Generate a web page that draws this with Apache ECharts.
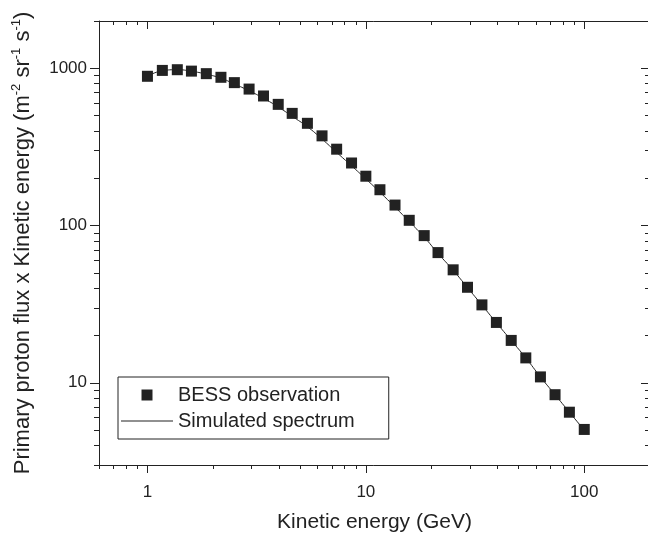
<!DOCTYPE html>
<html>
<head>
<meta charset="utf-8">
<script src="https://cdn.jsdelivr.net/npm/echarts@6/dist/echarts.min.js"></script>
<style>
  html, body { margin: 0; padding: 0; background: #fff; }
  #main { width: 648px; height: 533px; }
</style>
</head>
<body>
<div id="main"></div>
<script>
"use strict"
// BESS observed points (kinetic energy GeV, flux x energy)
var energy = [1.0, 1.17, 1.37, 1.59, 1.86, 2.17, 2.5, 2.92, 3.4, 3.97, 4.6, 5.4, 6.3, 7.35, 8.6,
    10, 11.6, 13.6, 15.8, 18.5, 21.4, 25.1, 29.2, 34, 39.6, 46.3, 54, 63, 73.5, 85.5, 100];
var bess = [890, 970, 980, 960, 925, 877, 811, 738, 667, 590, 517, 447, 372, 306, 250,
    206, 169, 135, 108, 86.3, 67.3, 52.3, 40.5, 31.3, 24.2, 18.6, 14.4, 10.9, 8.4, 6.5, 5.05];
// simulated curve, read at the same energies
var simulated = [890, 965, 980, 958, 918, 865, 795, 720, 645, 568, 495, 425, 355, 292, 240,
    198, 163, 131, 106, 84.5, 66.5, 52, 40.3, 31.2, 24.1, 18.6, 14.4, 10.9, 8.4, 6.5, 5.0];

// tick labels / tick values
var xMajor = [1, 10, 100];
var xMinor = [0.6, 0.7, 0.8, 0.9, 2, 3, 4, 5, 6, 7, 8, 9, 20, 30, 40, 50, 60, 70, 80, 90, 200];
var yMajor = [10, 100, 1000];
var yMinor = [3, 4, 5, 6, 7, 8, 9, 20, 30, 40, 50, 60, 70, 80, 90, 200, 300, 400, 500, 600, 700, 800, 900, 2000];

var ink = '#222';
var font = 'Liberation Sans, Arial, sans-serif';

var scatterData = [], lineData = [];
for (var i = 0; i < energy.length; i++) {
    scatterData.push([energy[i], bess[i]]);
    lineData.push([energy[i], simulated[i]]);
}

function plain(v) { return String(v); }

function xAx(pos, major, labels, inside) {
    return {
        type: 'log', logBase: 10, min: 0.6, max: 200, position: pos,
        axisLine: { show: major, onZero: false, lineStyle: { color: ink, width: 1 } },
        axisTick: { show: true, inside: inside, length: major ? 8 : 4,
            customValues: major ? xMajor : xMinor, lineStyle: { color: ink, width: 1 } },
        axisLabel: { show: labels, customValues: xMajor, margin: 19, fontSize: 17,
            color: ink, fontFamily: font, formatter: plain },
        minorTick: { show: false },
        splitLine: { show: false }
    };
}
function yAx(pos, major, labels, inside) {
    return {
        type: 'log', logBase: 10, min: 3, max: 2000, position: pos,
        axisLine: { show: major, onZero: false, lineStyle: { color: ink, width: 1 } },
        axisTick: { show: true, inside: inside, length: major ? 9 : 5,
            customValues: major ? yMajor : yMinor, lineStyle: { color: ink, width: 1 } },
        axisLabel: { show: labels, customValues: yMajor, margin: 12, fontSize: 17,
            color: ink, fontFamily: font, formatter: plain },
        minorTick: { show: false },
        splitLine: { show: false }
    };
}

var xAxes = [xAx('bottom', true, true, false), xAx('bottom', false, false, false),
    xAx('top', true, false, true), xAx('top', false, false, true)];
xAxes[0].name = 'Kinetic energy (GeV)';
xAxes[0].nameLocation = 'middle';
xAxes[0].nameGap = 47;
xAxes[0].nameTextStyle = { fontSize: 21, color: ink, fontFamily: font };

var yAxes = [yAx('left', true, true, false), yAx('left', false, false, false),
    yAx('right', true, false, true), yAx('right', false, false, true)];
yAxes[0].name = '{a|Primary proton flux x Kinetic energy (m}{s|-2}{a| sr}{s|-1}{a| s}{s|-1}{a|)}';
yAxes[0].nameLocation = 'middle';
yAxes[0].nameGap = 64;
yAxes[0].nameTextStyle = {
    fontSize: 22, color: ink, fontFamily: font,
    rich: {
        a: { fontSize: 22, color: ink, fontFamily: font, lineHeight: 25 },
        s: { fontSize: 13, color: ink, fontFamily: font, verticalAlign: 'top', lineHeight: 25 }
    }
};

var option = {
    backgroundColor: '#fff',
    animation: false,
    grid: { left: 99, top: 21, right: -2, bottom: 68, outerBoundsMode: 'none', containLabel: false },
    legend: {
        orient: 'vertical', left: 118, top: 377,
        itemWidth: 52, itemHeight: 11, itemGap: 6,
        padding: [8, 34, 8, 3],
        borderColor: ink, borderWidth: 1,
        textStyle: { fontSize: 20, color: ink, fontFamily: font },
        data: [
            { name: 'BESS observation', icon: 'path://M0,0H1V1H0Z' },
            { name: 'Simulated spectrum', icon: 'path://M0,0H52V1H0Z' }
        ]
    },
    xAxis: xAxes,
    yAxis: yAxes,
    series: [{
        name: 'Simulated spectrum',
        type: 'line',
        xAxisIndex: 0, yAxisIndex: 0,
        data: lineData,
        smooth: true,
        showSymbol: false,
        symbol: 'none',
        lineStyle: { color: ink, width: 1 },
        itemStyle: { color: ink },
        z: 2
    }, {
        name: 'BESS observation',
        type: 'scatter',
        xAxisIndex: 0, yAxisIndex: 0,
        data: scatterData,
        symbol: 'rect',
        symbolSize: 11,
        itemStyle: { color: ink, opacity: 1 },
        z: 3
    }]
};

var chart = echarts.init(document.getElementById('main'));
chart.setOption(option);
</script>
</body>
</html>
